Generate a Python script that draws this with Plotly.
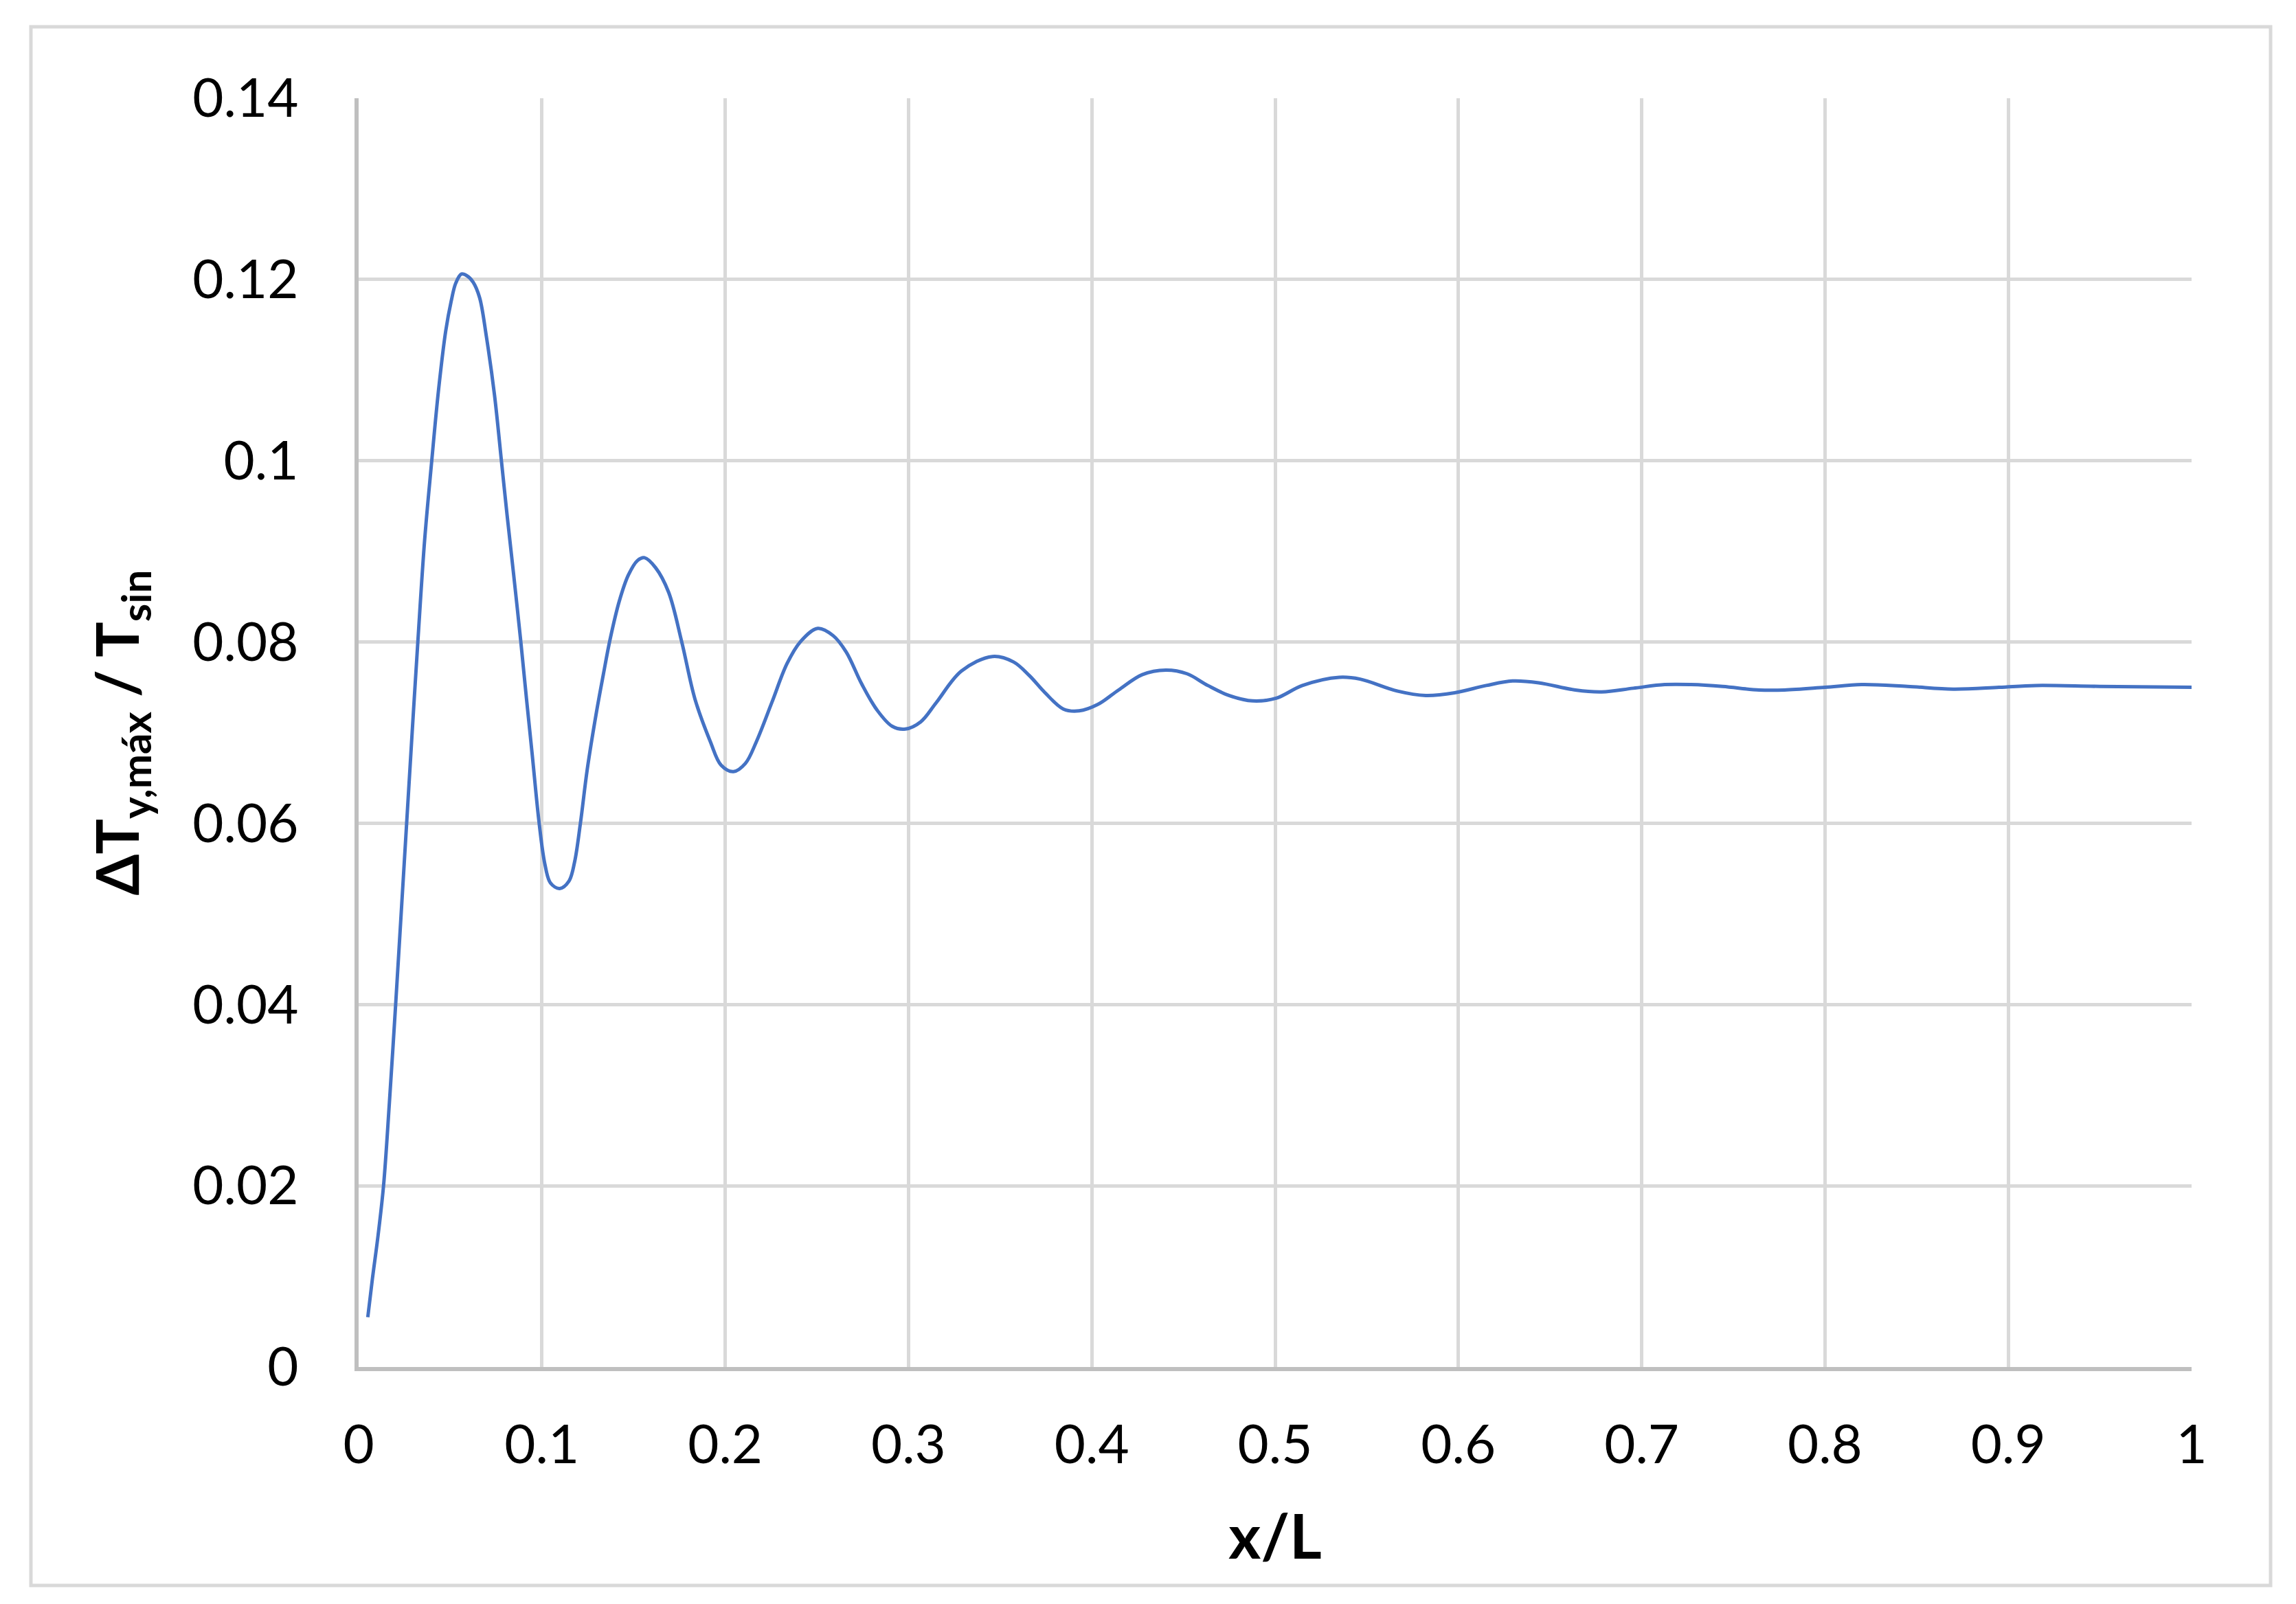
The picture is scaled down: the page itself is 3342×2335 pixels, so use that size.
import plotly.graph_objects as go

x_over_L = [
    0.005, 0.0075, 0.0106, 0.0136, 0.0168, 0.0202, 0.0232, 0.0262, 0.0292, 0.0323,
    0.036, 0.0399, 0.0436, 0.0475, 0.0505, 0.053, 0.0561, 0.0592, 0.0625, 0.066,
    0.0697, 0.0741, 0.0779, 0.081, 0.0847, 0.0885, 0.0916, 0.0947, 0.0985, 0.1016,
    0.1047, 0.1097, 0.1147, 0.1178, 0.121, 0.1247, 0.1297, 0.1335, 0.1372, 0.1422,
    0.1472, 0.1522, 0.156, 0.162, 0.1691, 0.1763, 0.1835, 0.1919, 0.1978, 0.2045,
    0.211, 0.217, 0.2254, 0.2337, 0.2409, 0.2505, 0.2589, 0.266, 0.2744, 0.2828,
    0.2911, 0.2983, 0.3067, 0.3151, 0.3289, 0.3458, 0.3573, 0.3659, 0.3745, 0.3845,
    0.3931, 0.4032, 0.4146, 0.4275, 0.4404, 0.4519, 0.4633, 0.4748, 0.4877, 0.5006,
    0.5149, 0.535, 0.5464, 0.5665, 0.5822, 0.598, 0.6152, 0.6295, 0.6438, 0.6639,
    0.6782, 0.6954, 0.7126, 0.7269, 0.7441, 0.7642, 0.7779, 0.80, 0.82, 0.845,
    0.87, 0.895, 0.915, 0.95, 1.0,
]
dT_ratio = [
    0.0055, 0.0097, 0.0145, 0.0200, 0.0292, 0.0400, 0.0500, 0.0600, 0.0700, 0.0800,
    0.0912, 0.1000, 0.1078, 0.1143, 0.1176, 0.1196, 0.1206, 0.1204, 0.1197, 0.1180,
    0.1137, 0.1073, 0.1000, 0.0940, 0.0872, 0.0800, 0.0737, 0.0676, 0.0600, 0.0555,
    0.0534, 0.0528, 0.0536, 0.0557, 0.0600, 0.0659, 0.0722, 0.0764, 0.0803, 0.0845,
    0.0874, 0.0890, 0.0893, 0.0882, 0.0855, 0.0800, 0.0737, 0.0690, 0.0664, 0.0657,
    0.0666, 0.0690, 0.0733, 0.0776, 0.0800, 0.0815, 0.0807, 0.0789, 0.0754, 0.0725,
    0.0707, 0.0704, 0.0712, 0.0733, 0.0768, 0.0784, 0.0778, 0.0763, 0.0744, 0.0726,
    0.0724, 0.0731, 0.0747, 0.0764, 0.0769, 0.0765, 0.0752, 0.0741, 0.0735, 0.0738,
    0.0752, 0.0761, 0.0759, 0.0746, 0.0741, 0.0744, 0.0752, 0.0757, 0.0755, 0.0747,
    0.0745, 0.0749, 0.0753, 0.0753, 0.0751, 0.0747, 0.0747, 0.0750, 0.0753, 0.0751,
    0.0748, 0.0750, 0.0752, 0.0751, 0.0750,
]

x_ticks = [0, 0.1, 0.2, 0.3, 0.4, 0.5, 0.6, 0.7, 0.8, 0.9, 1]
x_tick_labels = ["0", "0.1", "0.2", "0.3", "0.4", "0.5", "0.6", "0.7", "0.8", "0.9", "1"]
y_ticks = [0, 0.02, 0.04, 0.06, 0.08, 0.1, 0.12, 0.14]
y_tick_labels = ["0", "0.02", "0.04", "0.06", "0.08", "0.1", "0.12", "0.14"]

# page body has an 8px margin; lay the figure out in page coordinates minus 8
OFF = 8
W, H = 3342 - 2 * OFF, 2335 - 2 * OFF
L, R, T, B = 522 - OFF, 3190 - OFF, 143 - OFF, 1990 - OFF

fig = go.Figure()
fig.add_trace(go.Scatter(
    x=x_over_L, y=dT_ratio, mode="lines",
    line=dict(color="#4472C4", width=5, shape="spline", smoothing=1.0),
    showlegend=False, hoverinfo="skip",
))

FONT = "Lato, Carlito, 'Liberation Sans', sans-serif"
GRID = "#D9D9D9"

fig.update_layout(
    width=W, height=H,
    margin=dict(l=L, r=W - R, t=T, b=H - B, autoexpand=False),
    paper_bgcolor="white", plot_bgcolor="white",
    font=dict(family=FONT, color="black", size=78),
    xaxis=dict(
        range=[0, 1], tickvals=x_ticks, ticktext=x_tick_labels,
        showgrid=True, gridcolor=GRID, gridwidth=5,
        showline=True, linecolor="#BFBFBF", linewidth=6,
        zeroline=False, ticks="", ticklabelstandoff=40,
        tickfont=dict(size=78, family=FONT),
        title=dict(text="<b>x/L</b>", font=dict(size=90, family=FONT), standoff=62),
        automargin=False,
    ),
    yaxis=dict(
        range=[0, 0.14], tickvals=y_ticks, ticktext=y_tick_labels,
        showgrid=True, gridcolor=GRID, gridwidth=5,
        showline=True, linecolor="#BFBFBF", linewidth=6,
        zeroline=False, ticks="", ticklabelstandoff=66,
        tickfont=dict(size=78, family=FONT),
        title=dict(text="<b>ΔT<sub>y,máx</sub> / T<sub>sin</sub></b>",
                   font=dict(size=86, family=FONT), standoff=51),
        automargin=False,
    ),
)

def px_to_paper_x(px):
    return (px - OFF - L) / (R - L)

def px_to_paper_y(py):
    return (B - (py - OFF)) / (B - T)

# outer chart-area border (page pixel coordinates)
fig.add_shape(
    type="rect", xref="paper", yref="paper",
    x0=px_to_paper_x(45), x1=px_to_paper_x(3305),
    y0=px_to_paper_y(2308), y1=px_to_paper_y(39),
    line=dict(color=GRID, width=5), fillcolor="rgba(0,0,0,0)", layer="below",
)

fig.write_html("out.html")
